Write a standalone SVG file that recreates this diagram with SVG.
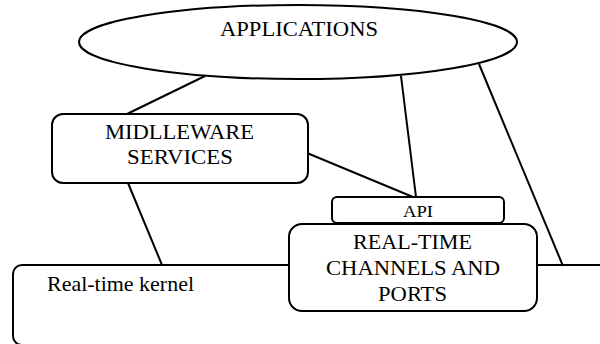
<svg xmlns="http://www.w3.org/2000/svg" width="600" height="344" viewBox="0 0 600 344">
<style>
.box{fill:#fff;stroke:#000;stroke-width:2}
.t{font-family:"Liberation Serif","Times New Roman",serif;font-size:21px;fill:#000;text-anchor:middle}
.s{font-size:17px}
.c line{stroke:#000;stroke-width:2;fill:none}
</style>
<rect width="600" height="344" fill="#fff"/>
<g id="kernel">
<rect class="box" x="13" y="265" width="620" height="80" rx="9"/>
<text class="t" x="120.5" y="290.5" textLength="147" lengthAdjust="spacingAndGlyphs">Real-time kernel</text>
</g>
<g class="c" id="connectors">
<line x1="205" y1="76" x2="127" y2="114"/>
<line x1="401" y1="76" x2="416" y2="197"/>
<line x1="479" y1="64" x2="563" y2="266"/>
<line x1="307" y1="153" x2="413" y2="197"/>
<line x1="128" y1="183" x2="162" y2="265"/>
</g>
<g id="applications">
<ellipse class="box" cx="298" cy="42" rx="219" ry="37"/>
<text class="t" x="299" y="36" textLength="158" lengthAdjust="spacingAndGlyphs">APPLICATIONS</text>
</g>
<g id="middleware">
<rect class="box" x="52" y="114" width="256" height="69" rx="11"/>
<text class="t" x="179.5" y="138.5" textLength="149" lengthAdjust="spacingAndGlyphs">MIDLLEWARE</text>
<text class="t" x="180" y="164" textLength="106" lengthAdjust="spacingAndGlyphs">SERVICES</text>
</g>
<g id="api">
<rect class="box" x="332" y="197" width="172" height="26" rx="5"/>
<text class="t s" x="418" y="216.5" textLength="30" lengthAdjust="spacingAndGlyphs">API</text>
</g>
<g id="channels">
<rect class="box" x="289" y="224" width="248" height="87" rx="13"/>
<text class="t" x="412.5" y="249" textLength="119" lengthAdjust="spacingAndGlyphs">REAL-TIME</text>
<text class="t" x="413" y="275" textLength="174" lengthAdjust="spacingAndGlyphs">CHANNELS AND</text>
<text class="t" x="412.5" y="301" textLength="69" lengthAdjust="spacingAndGlyphs">PORTS</text>
</g>
</svg>
